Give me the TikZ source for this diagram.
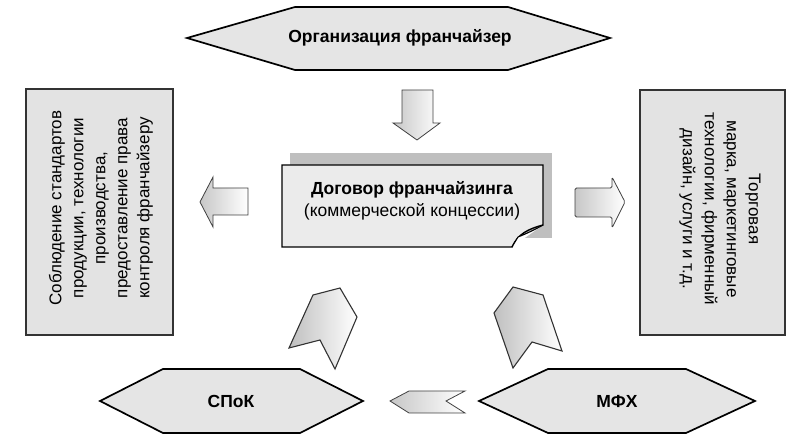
\documentclass[tikz,border=0pt]{standalone}
\usepackage{fontspec}
\setmainfont{Liberation Sans}
\begin{document}
\begin{tikzpicture}[x=1pt,y=-1pt,
  hexst/.style={draw=black, line width=1.7pt, line join=miter, fill=black!10},
  boxst/.style={draw=black!80, line width=1.1pt, fill=black!11},
  arrowst/.style={draw=black!75, line width=0.8pt, line join=miter, left color=black!22, right color=white},
  vbarrowst/.style={draw=black!75, line width=0.8pt, line join=miter, top color=white, bottom color=black!25},
  bookst/.style={draw=black!80, line width=1.1pt, line join=miter, left color=black!25, right color=white},
  hexlabel/.style={font=\fontsize{17.5}{20}\selectfont\bfseries, inner sep=0pt},
  boxtext/.style={font=\fontsize{17}{22}\selectfont, align=center, inner sep=0pt},
  doctext/.style={font=\fontsize{17.5}{22}\selectfont, align=center, inner sep=0pt}]
\useasboundingbox (0,0) rectangle (807,443);

% top hexagon
\draw[hexst] (187,38) -- (295,7) -- (508,7) -- (610,38) -- (508,70) -- (295,70) -- cycle;
\node[hexlabel] (org) at (400,38) {Организация франчайзер};

% down arrow
\draw[arrowst] (402,90) -- (433,90) -- (433,123) -- (440,123) -- (417,140) -- (393,123) -- (402,123) -- cycle;

% document
\fill[black!25] (290,153) rectangle (552,238);
\draw[line width=1.4pt, fill=black!8, line join=miter] (282,165) -- (543,165) -- (543,225)
  .. controls (528,229) and (518,234) .. (512,247) -- (282,247) -- cycle;
\draw[line width=1.1pt, fill=white] (512,247) -- (518,237) .. controls (528,233) and (536,229) .. (543,225);
\node[doctext] (doc) at (412,201) {\textbf{Договор франчайзинга}\\(коммерческой концессии)};

% left box
\draw[boxst] (26,89) rectangle (173,335);
\node[boxtext, rotate=90] (duties) at (101,208) {Соблюдение стандартов\\продукции, технологии\\производства,\\предоставление права\\контроля франчайзеру};

% right box
\draw[boxst] (640,90) rectangle (785,335);
\node[boxtext, rotate=-90] (rights) at (720,209) {Торговая\\марка, маркетинговые\\технологии, фирменный\\дизайн, услуги и т.д.};

% left arrow
\draw[arrowst] (248,188) -- (213,188) -- (213,177) -- (200,202) -- (213,227) -- (213,215) -- (248,215) -- cycle;
% right arrow
\draw[arrowst, rounded corners=1.5pt] (575,188) -- (612,188) -- (612,177) -- (625,202) -- (612,228) -- (612,217) -- (575,217) -- cycle;

% bookmark arrows
\draw[bookst] (313,295) -- (340,288) -- (357,317) -- (335,369) -- (320,340) -- (289,348) -- cycle;
\draw[bookst] (513,287) -- (543,295) -- (562,351) -- (532,342) -- (513,368) -- (494,313) -- cycle;

% bottom hexagons
\draw[hexst] (100,401) -- (163,369) -- (300,369) -- (363,401) -- (300,433) -- (163,433) -- cycle;
\node[hexlabel] (spok) at (231,401) {СПоК};
\draw[hexst] (479,401) -- (548,369) -- (686,369) -- (755,401) -- (686,433) -- (548,433) -- cycle;
\node[hexlabel] (mfh) at (617,401) {МФХ};

% small arrow
\draw[arrowst] (390,401) -- (409,391) -- (465,391) -- (446,401) -- (465,413) -- (409,413) -- cycle;
\end{tikzpicture}
\end{document}
